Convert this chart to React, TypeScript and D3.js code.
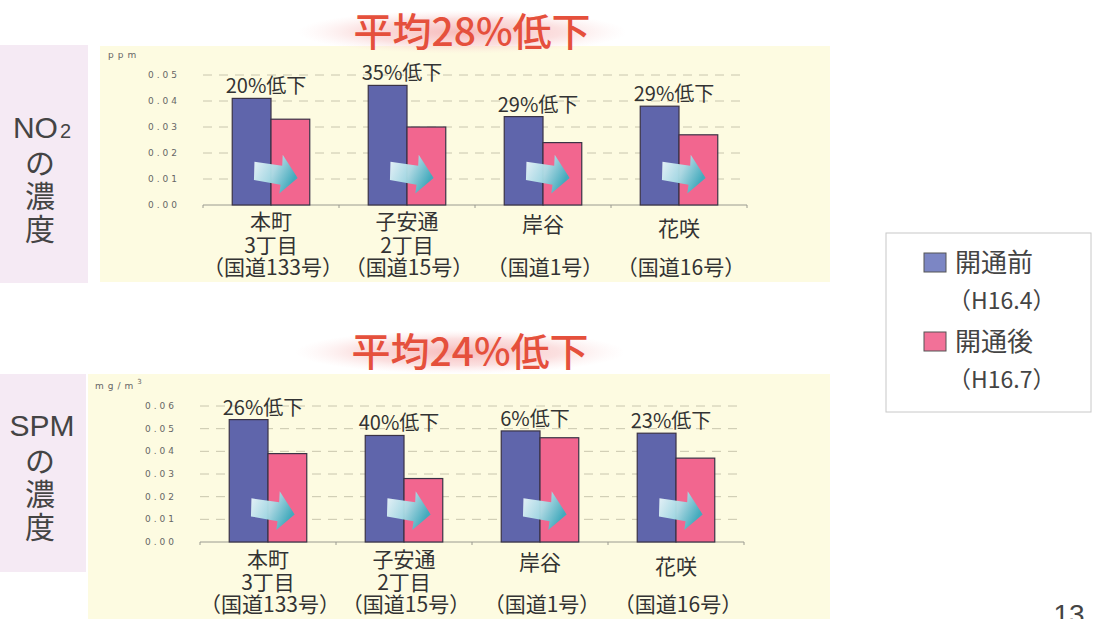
import React from "react";
import * as d3 from "d3";

const categories = ["本町3丁目", "子安通2丁目", "岸谷", "花咲"];
const categoryLines = [
  ["本町", "3丁目", "（国道133号）"],
  ["子安通", "2丁目", "（国道15号）"],
  ["岸谷", "", "（国道1号）"],
  ["花咲", "", "（国道16号）"],
];
const seriesKeys = ["before", "after"];
const seriesNames = ["開通前", "開通後"];
const seriesDates = ["（H16.4）", "（H16.7）"];

const no2Before = [0.041, 0.046, 0.034, 0.038];
const no2After = [0.033, 0.030, 0.024, 0.027];
const no2Drops = ["20%低下", "35%低下", "29%低下", "29%低下"];
const no2Ticks = [0, 0.01, 0.02, 0.03, 0.04, 0.05];

const spmBefore = [0.054, 0.047, 0.049, 0.048];
const spmAfter = [0.039, 0.028, 0.046, 0.037];
const spmDrops = ["26%低下", "40%低下", "6%低下", "23%低下"];
const spmTicks = [0, 0.01, 0.02, 0.03, 0.04, 0.05, 0.06];

const titles = ["平均28%低下", "平均24%低下"];

const CJK = "'Noto Sans CJK JP', 'Noto Sans', sans-serif";
const BLUE = "#5f65ab";
const PINK = "#f2668f";

type PanelProps = {
  before: number[];
  after: number[];
  drops: string[];
  ticks: number[];
  x0: number;
  x1: number;
  yBase: number;
  yTop: number;
  yMax: number;
  arrowVal: number;
  idx: number;
  lineOffsets: number[];
};

function Arrow({ cx, cy, id }: { cx: number; cy: number; id: string }) {
  const pts: [number, number][] = [
    [-22, -9],
    [6, -9],
    [5, -20],
    [23, 1],
    [7, 19],
    [7, 10],
    [-20, 9],
  ];
  const d = d3.line()(pts) + "Z";
  return (
    <path
      d={d}
      transform={`translate(${cx},${cy}) rotate(8)`}
      fill={`url(#${id})`}
      opacity={0.95}
    />
  );
}

function Panel(p: PanelProps) {
  const xs = d3
    .scaleBand<number>()
    .domain(categories.map((_, i) => i))
    .range([p.x0, p.x1])
    .paddingInner(0.43)
    .paddingOuter(0.215);
  const xi = d3.scaleBand<string>().domain(seriesKeys).range([0, xs.bandwidth()]);
  const y = d3.scaleLinear().domain([0, p.yMax]).range([p.yBase, p.yTop]);
  const step = xs.step();
  const fmt = d3.format(".2f");
  return (
    <g>
      {p.ticks.map((t) =>
        t > 0 ? (
          <line
            key={"g" + t}
            x1={p.x0}
            x2={p.x1}
            y1={y(t)}
            y2={y(t)}
            stroke="#c9c6ae"
            strokeWidth={1}
            strokeDasharray="9,7"
          />
        ) : null
      )}
      {p.ticks.map((t) => (
        <text
          key={"t" + t}
          x={p.x0 - 55}
          y={y(t) + 3}
          fontSize={9}
          fill="#666"
          letterSpacing={3}
          fontFamily="'DejaVu Sans', sans-serif"
        >
          {fmt(t)}
        </text>
      ))}
      <line x1={p.x0} x2={p.x1} y1={p.yBase} y2={p.yBase} stroke="#9a9a90" strokeWidth={1} />
      {d3.range(5).map((i) => (
        <line
          key={"k" + i}
          x1={p.x0 + i * step}
          x2={p.x0 + i * step}
          y1={p.yBase}
          y2={p.yBase + 3}
          stroke="#9a9a90"
        />
      ))}
      {categories.map((_, i) => {
        const gx = xs(i)!;
        const vals = [p.before[i], p.after[i]];
        return (
          <g key={"b" + i}>
            {seriesKeys.map((k, j) => (
              <rect
                key={k}
                x={gx + xi(k)!}
                y={y(vals[j])}
                width={xi.bandwidth()}
                height={p.yBase - y(vals[j])}
                fill={j === 0 ? BLUE : PINK}
                stroke="#3a3346"
                strokeWidth={1.2}
              />
            ))}
            <Arrow cx={gx + xs.bandwidth() / 2 + 4} cy={y(p.arrowVal)} id={`ag${p.idx}`} />
            <text
              x={gx + xs.bandwidth() / 2 - 5}
              y={y(p.before[i]) - 5}
              textAnchor="middle"
              fontSize={20}
              fill="#333"
              fontFamily={CJK}
            >
              {p.drops[i]}
            </text>
            {categoryLines[i].map((ln, li) =>
              ln ? (
                <text
                  key={li}
                  x={gx + xs.bandwidth() / 2 + (li === 2 ? 2 : 0)}
                  y={p.yBase + (li === 0 && i >= 2 ? p.lineOffsets[0] + 3 + (i === 3 ? 4 : 0) : p.lineOffsets[li])}
                  textAnchor="middle"
                  fontSize={21}
                  fill="#333"
                  fontFamily={CJK}
                >
                  {ln}
                </text>
              ) : null
            )}
          </g>
        );
      })}
    </g>
  );
}

function SideLabel({ x, y, head, sub }: { x: number; y: number; head: string; sub?: string }) {
  const chars = ["の", "濃", "度"];
  return (
    <g fill="#444" fontFamily={CJK}>
      <text x={x} y={y} textAnchor="middle" fontSize={30} fontFamily="'Liberation Sans Narrow', 'Liberation Sans', sans-serif">
        {head}
        {sub ? <tspan fontSize={20} dx={2}>{sub}</tspan> : null}
      </text>
      {chars.map((c, i) => (
        <text key={c} x={x - 2} y={y + 36 + i * 33} textAnchor="middle" fontSize={30}>
          {c}
        </text>
      ))}
    </g>
  );
}

function Title({ cx, cy, text }: { cx: number; cy: number; text: string }) {
  return (
    <g>
      <ellipse cx={cx - 10} cy={cy} rx={165} ry={22} fill="url(#glow)" />
      <text
        x={cx}
        y={cy + 14}
        textAnchor="middle"
        fontSize={39}
        fill="#e5503c"
        fontFamily={CJK}
        fontWeight={500}
      >
        {text}
      </text>
    </g>
  );
}

export default function App() {
  return (
    <svg
      width={1097}
      height={619}
      style={{ position: "absolute", left: 0, top: 0, background: "#fff" }}
    >
      <defs>
        <radialGradient id="glow">
          <stop offset="0%" stopColor="#f4a3a3" stopOpacity={0.75} />
          <stop offset="60%" stopColor="#f7c0c0" stopOpacity={0.5} />
          <stop offset="100%" stopColor="#fbe0e0" stopOpacity={0} />
        </radialGradient>
        {[0, 1].map((i) => (
          <linearGradient key={i} id={`ag${i}`} x1="0" y1="0" x2="1" y2="0.3">
            <stop offset="0%" stopColor="#f4fbfd" />
            <stop offset="55%" stopColor="#a8dde6" />
            <stop offset="100%" stopColor="#3aaebf" />
          </linearGradient>
        ))}
      </defs>

      <rect x={0} y={45} width={88} height={238} fill="#f5eaf4" />
      <rect x={0} y={374} width={86} height={198} fill="#f5eaf4" />
      <rect x={100} y={46} width={730} height={236} fill="#fdfbe1" />
      <rect x={88} y={374} width={742} height={245} fill="#fdfbe1" />

      <Title cx={472} cy={32} text={titles[0]} />
      <Title cx={470} cy={352} text={titles[1]} />

      <SideLabel x={42} y={138} head="NO" sub="2" />
      <SideLabel x={42} y={436} head="SPM" />

      <text x={108} y={58} fontSize={9} fill="#666" letterSpacing={4} fontFamily="'DejaVu Sans', sans-serif">
        ppm
      </text>
      <text x={95} y={389} fontSize={9} fill="#666" letterSpacing={4} fontFamily="'DejaVu Sans', sans-serif">
        mg/m<tspan dy={-5} fontSize={7}>3</tspan>
      </text>

      <Panel
        before={no2Before}
        after={no2After}
        drops={no2Drops}
        ticks={no2Ticks}
        x0={203}
        x1={747}
        yBase={205}
        yTop={75}
        yMax={0.05}
        arrowVal={0.012}
        idx={0}
        lineOffsets={[24, 48, 70]}
      />
      <Panel
        before={spmBefore}
        after={spmAfter}
        drops={spmDrops}
        ticks={spmTicks}
        x0={200}
        x1={744}
        yBase={542}
        yTop={406}
        yMax={0.06}
        arrowVal={0.014}
        idx={1}
        lineOffsets={[25, 48, 70]}
      />

      <g>
        <rect x={886} y={233} width={205} height={179} fill="#fff" stroke="#c8c8c8" strokeWidth={1} />
        {seriesNames.map((n, i) => (
          <g key={n}>
            <rect
              x={924}
              y={253 + i * 79}
              width={22}
              height={19}
              fill={i === 0 ? "#7c86c4" : "#f27198"}
              stroke="#555"
              strokeWidth={1}
            />
            <text x={955} y={272 + i * 79} fontSize={26} fill="#444" fontFamily={CJK}>
              {n}
            </text>
            <text x={948} y={309 + i * 79} fontSize={23} fill="#444" fontFamily={CJK}>
              {seriesDates[i]}
            </text>
          </g>
        ))}
      </g>

      <text x={1069} y={624} textAnchor="middle" fontSize={28} fill="#444" fontFamily="'Liberation Sans', sans-serif">
        13
      </text>
    </svg>
  );
}
